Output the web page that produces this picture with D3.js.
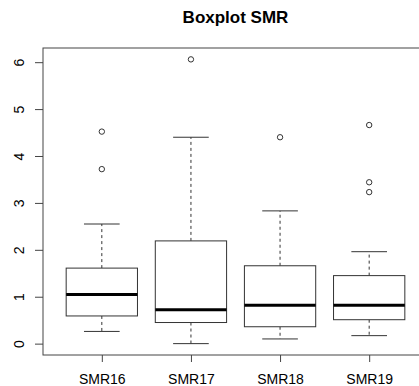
<!DOCTYPE html>
<html>
<head>
<meta charset="utf-8">
<script src="https://cdn.jsdelivr.net/npm/d3@7"></script>
<style>
  body { margin: 0; background: #fff; }
  svg { display: block; font-family: "Liberation Sans", Arial, sans-serif; }
</style>
</head>
<body>
<div id="chart"></div>
<script>
// values
var groups = ["SMR16", "SMR17", "SMR18", "SMR19"];
var lowerWhisker = [0.26, 0.00, 0.10, 0.17];
var lowerHinge = [0.59, 0.45, 0.36, 0.51];
var medians = [1.05, 0.72, 0.82, 0.82];
var upperHinge = [1.61, 2.19, 1.66, 1.45];
var upperWhisker = [2.55, 4.40, 2.83, 1.96];
var outliers = [[3.72, 4.52], [6.06], [4.40], [3.23, 3.44, 4.66]];
var yTicks = [0, 1, 2, 3, 4, 5, 6];

var width = 419, height = 386;
// plot frame (right edge falls off the canvas, like the reference)
var plotLeft = 43, plotRight = 428, plotTop = 48, plotBottom = 355;

var svg = d3.select("#chart").append("svg")
  .attr("width", width)
  .attr("height", height);

// R style: 4% padding on both axes
var x = d3.scaleLinear().domain([0.34, 4.66]).range([plotLeft, plotRight]);
var y = d3.scaleLinear().domain([-0.2424, 6.3024]).range([plotBottom, plotTop]);

var boxes = groups.map(function(g, i) {
  return {
    name: g, pos: i + 1,
    lw: lowerWhisker[i], q1: lowerHinge[i], med: medians[i],
    q3: upperHinge[i], uw: upperWhisker[i], out: outliers[i]
  };
});

var halfBox = (x(1.4) - x(1)); // box width 0.8
var halfCap = halfBox / 2;

var g = svg.selectAll("g.box").data(boxes).enter().append("g").attr("class", "box");

// whiskers, dashed
g.append("line")
  .attr("x1", function(d) { return x(d.pos); }).attr("x2", function(d) { return x(d.pos); })
  .attr("y1", function(d) { return y(d.q3); }).attr("y2", function(d) { return y(d.uw); })
  .attr("stroke", "#333").attr("stroke-dasharray", "3,3");
g.append("line")
  .attr("x1", function(d) { return x(d.pos); }).attr("x2", function(d) { return x(d.pos); })
  .attr("y1", function(d) { return y(d.q1); }).attr("y2", function(d) { return y(d.lw); })
  .attr("stroke", "#333").attr("stroke-dasharray", "3,3");

// staples
["uw", "lw"].forEach(function(k) {
  g.append("line")
    .attr("x1", function(d) { return x(d.pos) - halfCap; })
    .attr("x2", function(d) { return x(d.pos) + halfCap; })
    .attr("y1", function(d) { return y(d[k]); })
    .attr("y2", function(d) { return y(d[k]); })
    .attr("stroke", "#333");
});

// box
g.append("rect")
  .attr("x", function(d) { return x(d.pos) - halfBox; })
  .attr("width", halfBox * 2)
  .attr("y", function(d) { return y(d.q3); })
  .attr("height", function(d) { return y(d.q1) - y(d.q3); })
  .attr("fill", "#fff")
  .attr("stroke", "#333");

// median
g.append("line")
  .attr("x1", function(d) { return x(d.pos) - halfBox; })
  .attr("x2", function(d) { return x(d.pos) + halfBox; })
  .attr("y1", function(d) { return y(d.med); })
  .attr("y2", function(d) { return y(d.med); })
  .attr("stroke", "#000").attr("stroke-width", 3);

// outliers
g.each(function(d) {
  d3.select(this).selectAll("circle").data(d.out).enter().append("circle")
    .attr("cx", x(d.pos))
    .attr("cy", function(v) { return y(v); })
    .attr("r", 2.7)
    .attr("fill", "none")
    .attr("stroke", "#333");
});

// frame
svg.append("rect")
  .attr("x", plotLeft).attr("y", plotTop)
  .attr("width", plotRight - plotLeft).attr("height", plotBottom - plotTop)
  .attr("fill", "none").attr("stroke", "#444");

// y axis
var yAxis = svg.append("g")
  .attr("transform", "translate(" + plotLeft + ",0)")
  .call(d3.axisLeft(y).tickValues(yTicks).tickSize(8).tickPadding(0).tickFormat(d3.format("d")));
yAxis.select(".domain").remove();
yAxis.selectAll(".tick line").attr("stroke", "#444");
yAxis.selectAll(".tick text")
  .attr("x", 0).attr("dy", 0)
  .attr("transform", "translate(-19,0) rotate(-90)")
  .attr("text-anchor", "middle")
  .attr("fill", "#000")
  .style("font-size", "14px")
  .style("font-family", "Liberation Sans, Arial, sans-serif");

// x axis
var xAxis = svg.append("g")
  .attr("transform", "translate(0," + plotBottom + ")")
  .call(d3.axisBottom(x).tickValues([1, 2, 3, 4]).tickSize(7).tickPadding(12)
    .tickFormat(function(d) { return groups[d - 1]; }));
xAxis.select(".domain").remove();
xAxis.selectAll(".tick line").attr("stroke", "#444");
xAxis.selectAll(".tick text")
  .attr("fill", "#000")
  .style("font-size", "14px")
  .style("font-family", "Liberation Sans, Arial, sans-serif");

// title
svg.append("text")
  .attr("x", (plotLeft + plotRight) / 2)
  .attr("y", 23)
  .attr("text-anchor", "middle")
  .style("font-size", "17px")
  .style("font-weight", "bold")
  .text("Boxplot SMR");
</script>
</body>
</html>
